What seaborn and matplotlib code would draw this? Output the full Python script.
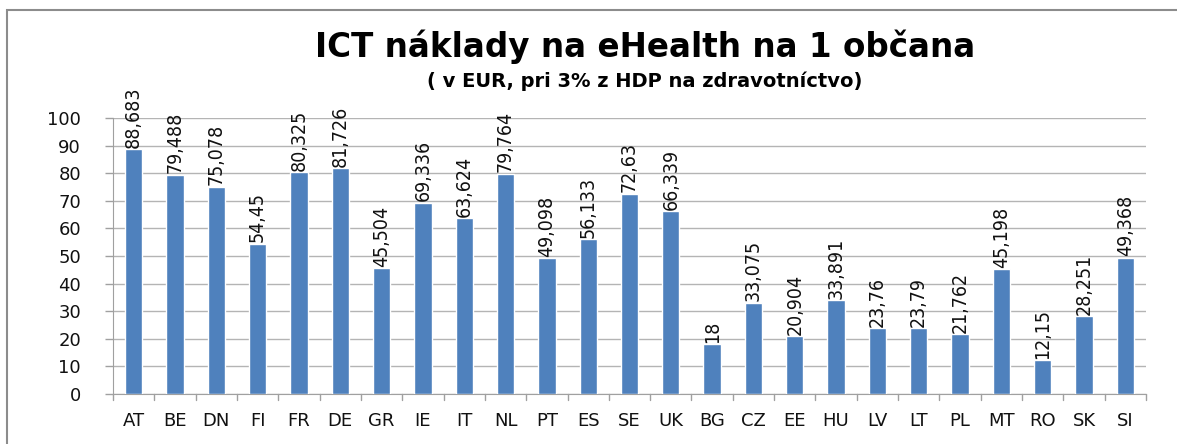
import pandas as pd
import matplotlib.pyplot as plt
import seaborn as sns
from matplotlib.patches import Rectangle

# Data
countries = ['AT', 'BE', 'DN', 'FI', 'FR', 'DE', 'GR', 'IE', 'IT', 'NL', 'PT', 'ES', 'SE',
             'UK', 'BG', 'CZ', 'EE', 'HU', 'LV', 'LT', 'PL', 'MT', 'RO', 'SK', 'SI']
costs = [88.683, 79.488, 75.078, 54.45, 80.325, 81.726, 45.504, 69.336, 63.624, 79.764,
         49.098, 56.133, 72.63, 66.339, 18, 33.075, 20.904, 33.891, 23.76, 23.79,
         21.762, 45.198, 12.15, 28.251, 49.368]
labels = ['88,683', '79,488', '75,078', '54,45', '80,325', '81,726', '45,504', '69,336',
          '63,624', '79,764', '49,098', '56,133', '72,63', '66,339', '18', '33,075',
          '20,904', '33,891', '23,76', '23,79', '21,762', '45,198', '12,15', '28,251', '49,368']
yticks = list(range(0, 101, 10))

df = pd.DataFrame({'Country': countries, 'Cost': costs})

sns.set_style('white')
plt.rcParams['font.family'] = ['DejaVu Sans']

fig = plt.figure(figsize=(11.77, 4.44), dpi=100)
ax = fig.add_axes([113 / 1177, 1 - 394 / 444, (1146 - 113) / 1177, (394 - 118) / 444])

sns.barplot(x='Country', y='Cost', data=df, color='#4f81bd', width=0.42,
            saturation=1, ax=ax, zorder=3)

ax.set_ylim(0, 100)
ax.set_xlim(-0.5, len(countries) - 0.5)
ax.set_yticks(yticks)
ax.set_yticklabels([str(t) for t in yticks], fontsize=13, color='#111111')
ax.tick_params(axis='x', length=0, labelsize=13, pad=13, colors='#111111')
ax.tick_params(axis='y', length=6, width=1, color='#a0a0a0', direction='out', left=True, pad=17)
ax.set_xlabel('')
ax.set_ylabel('')
ax.grid(axis='y', color='#b4b4b4', linewidth=1, zorder=0)

# ticks between categories on x axis
for i in range(len(countries) + 1):
    ax.plot([i - 0.5, i - 0.5], [0, -2.2], color='#a0a0a0', lw=1, clip_on=False)

for side in ['top', 'right']:
    ax.spines[side].set_visible(False)
ax.spines['left'].set_color('#a0a0a0')
ax.spines['bottom'].set_color('#a0a0a0')

for i, (v, t) in enumerate(zip(costs, labels)):
    ax.text(i, v + 0.5, t, rotation=90, ha='center', va='bottom', fontsize=14,
            family='DejaVu Sans', fontstretch='condensed', color='#111111')

fig.text(0.548, 1 - 47 / 444, 'ICT náklady na eHealth na 1 občana', ha='center', va='center',
         fontsize=23.5, fontweight='bold', color='black')
fig.text(0.548, 1 - 81 / 444, '( v EUR, pri 3% z HDP na zdravotníctvo)', ha='center', va='center',
         fontsize=14, fontweight='bold', color='black')

fig.patches.append(Rectangle((7 / 1177, -0.1), 1.2, 1 - 10 / 444 + 0.1, transform=fig.transFigure,
                             fill=False, edgecolor='#8c8c8c', lw=1.5))

fig.savefig('out.png', dpi=100)
